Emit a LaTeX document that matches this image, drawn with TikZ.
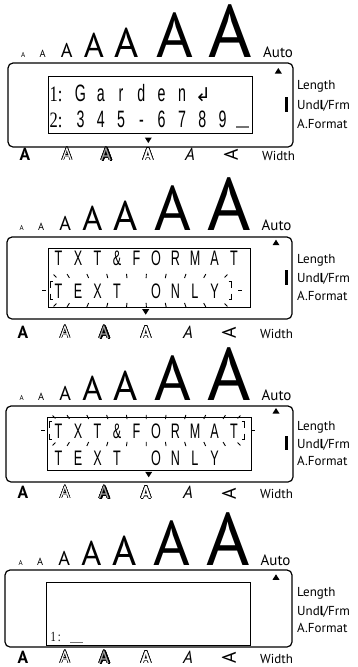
\documentclass[tikz,border=0pt]{standalone}
\usepackage{fontspec}
\usetikzlibrary{calc}
\newfontfamily\ptsans{PT Sans}
\newfontfamily\lcdf{Liberation Sans}[FakeStretch=0.6]
\newfontfamily\lcds{Liberation Serif}[FakeStretch=0.75]
\newfontfamily\dvs{DejaVu Sans}

\tikzset{
  outerbox/.style={draw, line width=1.2pt, rounded corners=5pt},
  innerbox/.style={draw, line width=0.9pt},
  lbl/.style={anchor=base west, inner sep=0pt, font=\ptsans\fontsize{13}{13}\selectfont},
  sizeA/.style={anchor=base, inner sep=0pt},
  botA/.style={anchor=base, inner sep=0pt},
  lcd/.style={anchor=base, inner sep=0pt},
  lcdbig/.style={lcd, font=\lcdf\fontsize{23.7}{23.7}\selectfont},
  lcdmid/.style={lcd, font=\lcdf\fontsize{21}{21}\selectfont},
  lcdnum/.style={anchor=base west, inner sep=0pt, font=\lcds\fontsize{22}{22}\selectfont},
  tri/.style={fill=black},
  tickmark/.style={line width=0.9pt},
  cursorline/.style={draw=black!55, line width=1.3pt},
  barmark/.style={fill=black},
}

% sizes row: prefix, dx, baseline
\newcommand\toprow[3]{%
  \foreach \cx/\fs [count=\i] in {23.3/7.1,42.7/10.4,66.7/20,94/34.3,126.7/41.4,174.7/62.9,230.5/74.3}{
    \node[sizeA, font=\ptsans\fontsize{\fs}{\fs}\selectfont] (#1-a\i) at (\cx+#2,#3) {A};
  }
  \node[lbl, font=\ptsans\fontsize{15}{15}\selectfont] (#1-auto) at (263+#2,#3) {Auto};
}

% side labels: prefix, y1, y2, y3
\newcommand\sidelabels[4]{%
  \node[lbl] (#1-len) at (297,#2) {Length};
  \node[lbl] (#1-und) at (297,#3) {Und{\bfseries l}/Frm};
  \node[lbl] (#1-af) at (297,#4) {A.Format};
}

\newcommand\upmark[2]{\fill[tri] (#1-3.5,#2+2.5) -- (#1+3.5,#2+2.5) -- (#1,#2-3) -- cycle;}
\newcommand\downmark[2]{\fill[tri] (#1-3.5,#2-2.5) -- (#1+3.5,#2-2.5) -- (#1,#2+3) -- cycle;}

% outlined A: name, x, y, font, radius, fill colour
\newcommand\outlineA[6]{%
  \foreach \ang in {0,30,...,330}{
    \node[botA, font=#4] (#1-c\ang) at ($(#2,#3)+(\ang:#5)$) {A};
  }
  \node[botA, font=#4, text=#6] (#1) at (#2,#3) {A};
}

% bottom row: prefix, dx, baseline
\newcommand\botrow[3]{%
  \node[botA, font=\ptsans\bfseries\fontsize{17.5}{17.5}\selectfont] (#1-b1) at (25+#2,#3) {A};
  \outlineA{#1-b2}{67+#2}{#3}{\ptsans\fontsize{17.5}{17.5}\selectfont}{0.55}{white}
  \outlineA{#1-b3s}{107+#2}{#3+0.7}{\ptsans\fontsize{17.5}{17.5}\selectfont}{0.5}{black}
  \outlineA{#1-b3}{106+#2}{#3}{\ptsans\fontsize{17.5}{17.5}\selectfont}{0.5}{black!35}
  \outlineA{#1-b4}{148+#2}{#3}{\ptsans\bfseries\fontsize{17}{17}\selectfont}{0.7}{white}
  \node[botA, font=\ptsans\itshape\fontsize{17.5}{17.5}\selectfont] (#1-b5) at (190+#2,#3) {A};
  \node[inner sep=0pt, rotate=90, font=\ptsans\fontsize{19.5}{19.5}\selectfont] (#1-b6) at (231+#2,#3-5) {A};
  \node[lbl] (#1-w) at (262+#2,#3) {Width};
}

% flashing marks: xL, xR, yc, h, list of tick x
\newcommand\flash[5]{%
  \pgfmathsetmacro\fcx{(#1+#2)/2}
  \pgfmathsetmacro\fhw{(#2-#1)/2}
  \foreach \t in {#5}{
    \pgfmathsetmacro\fang{40*(\t-\fcx)/\fhw}
    \pgfmathsetmacro\fsx{2.2*sin(\fang)}
    \pgfmathsetmacro\fsy{2.2*cos(\fang)}
    \pgfmathsetmacro\xa{\t-(\fsx)}
    \pgfmathsetmacro\xb{\t+(\fsx)}
    \pgfmathsetmacro\yta{#3-#4+(\fsy)}
    \pgfmathsetmacro\ytb{#3-#4-(\fsy)}
    \pgfmathsetmacro\yba{#3+#4-(\fsy)}
    \pgfmathsetmacro\ybb{#3+#4+(\fsy)}
    \draw[tickmark] (\xa,\yta) -- (\xb,\ytb);
    \draw[tickmark] (\xa,\yba) -- (\xb,\ybb);
  }
  % corner ticks
  \draw[tickmark] (#1+6.5,#3-#4+1.4) -- (#1+3.5,#3-#4-1.4);
  \draw[tickmark] (#1+6.5,#3+#4-1.4) -- (#1+3.5,#3+#4+1.4);
  \draw[tickmark] (#2-6.5,#3-#4+1.4) -- (#2-3.5,#3-#4-1.4);
  \draw[tickmark] (#2-6.5,#3+#4-1.4) -- (#2-3.5,#3+#4+1.4);
  % brackets
  \draw[tickmark] (#1+2.5,#3-9) -- (#1,#3-9) -- (#1,#3-3);
  \draw[tickmark] (#1,#3+3) -- (#1,#3+9) -- (#1+2.5,#3+9);
  \draw[tickmark] (#2-2.5,#3-9) -- (#2,#3-9) -- (#2,#3-3);
  \draw[tickmark] (#2,#3+3) -- (#2,#3+9) -- (#2-2.5,#3+9);
  % dashes
  \draw[tickmark] (#1-8,#3) -- (#1-4,#3);
  \draw[tickmark] (#2+7,#3) -- (#2+11,#3);
}

\begin{document}
\begin{tikzpicture}[x=1pt,y=-1pt]
\useasboundingbox (0,0) rectangle (357,667);

% ================= Panel 1 =================
\toprow{p1}{0}{57}
\draw[outerbox] (8,63) rectangle (293,147);
\draw[innerbox] (48,76.5) rectangle (252,133.3);
\upmark{278.3}{71}
\downmark{148.3}{140}
\fill[barmark] (285,97) rectangle (288,112);
\sidelabels{p1}{89}{109}{128}
\botrow{p1}{0}{160}
\node[lcdnum] (p1-n1) at (49.5,101) {1:};
\foreach \c [count=\i from 0] in {G,a,r,d,e,n}{
  \node[lcdbig] (p1-l1c\i) at (80.5+20.3*\i,101) {\c};
}
\node[lcd, font=\dvs\fontsize{19}{19}\selectfont] (p1-ret) at (203,101) {↲};
\node[lcdnum] (p1-n2) at (49.5,127) {2:};
\foreach \c [count=\i from 0] in {3,4,5,-,6,7,8,9}{
  \node[lcdbig] (p1-l2c\i) at (80.5+20.3*\i,127) {\c};
}
\coordinate (p1-cs) at (236,127);
\coordinate (p1-ce) at (249,127);
\draw[cursorline] (p1-cs) -- (p1-ce);

% ================= Panel 2 =================
\toprow{p2}{-1.5}{230}
\draw[outerbox] (7,237) rectangle (292,319);
\draw[innerbox] (48,248) rectangle (250,307);
\upmark{276}{242.7}
\downmark{145.7}{311.7}
\fill[barmark] (285,270) rectangle (288,285);
\sidelabels{p2}{263}{282}{300}
\botrow{p2}{-2}{338}
\foreach \c [count=\i from 0] in {T,X,T,\&,F,O,R,M,A,T}{
  \node[lcdmid] (p2-l1c\i) at (58.5+19.5*\i,265) {\c};
}
\foreach \c/\k in {T/0,E/1,X/2,T/3,O/5,N/6,L/7,Y/8}{
  \node[lcdmid] (p2-l2c\k) at (58.5+19.5*\k,298) {\c};
}
\flash{50}{231}{290.5}{14.5}{68.25,87.75,107.25,126.75,146.25,165.75,185.25,204.75}

% ================= Panel 3 =================
\toprow{p3}{-1.5}{400}
\draw[outerbox] (6,406) rectangle (293,482);
\draw[innerbox] (47,417.5) rectangle (251,470);
\upmark{276}{411}
\downmark{148.7}{474.3}
\fill[barmark] (285,436) rectangle (288,450);
\sidelabels{p3}{430}{448}{465}
\botrow{p3}{-2}{498.3}
\foreach \c [count=\i from 0] in {T,X,T,\&,F,O,R,M,A,T}{
  \node[lcdmid] (p3-l1c\i) at (58.5+19.5*\i,438) {\c};
}
\foreach \c/\k in {T/0,E/1,X/2,T/3,O/5,N/6,L/7,Y/8}{
  \node[lcdmid] (p3-l2c\k) at (58.5+19.5*\k,465) {\c};
}
\flash{49}{244}{430.5}{13.5}{68.25,87.75,107.25,126.75,146.25,165.75,185.25,204.75,224.25}

% ================= Panel 4 =================
\toprow{p4}{-2.5}{565}
\draw[outerbox] (5,570) rectangle (292,647);
\draw[innerbox] (46,582) rectangle (250,645);
\upmark{276}{577.3}
\sidelabels{p4}{596}{615}{632}
\botrow{p4}{-2}{663}
\node[lcdnum, font=\lcds\fontsize{14}{14}\selectfont] (p4-n1) at (50.5,641.7) {1\hspace{2pt}:};
\coordinate (p4-cs) at (70,642.5);
\coordinate (p4-ce) at (83,642.5);
\draw[cursorline] (p4-cs) -- (p4-ce);
\end{tikzpicture}
\end{document}
